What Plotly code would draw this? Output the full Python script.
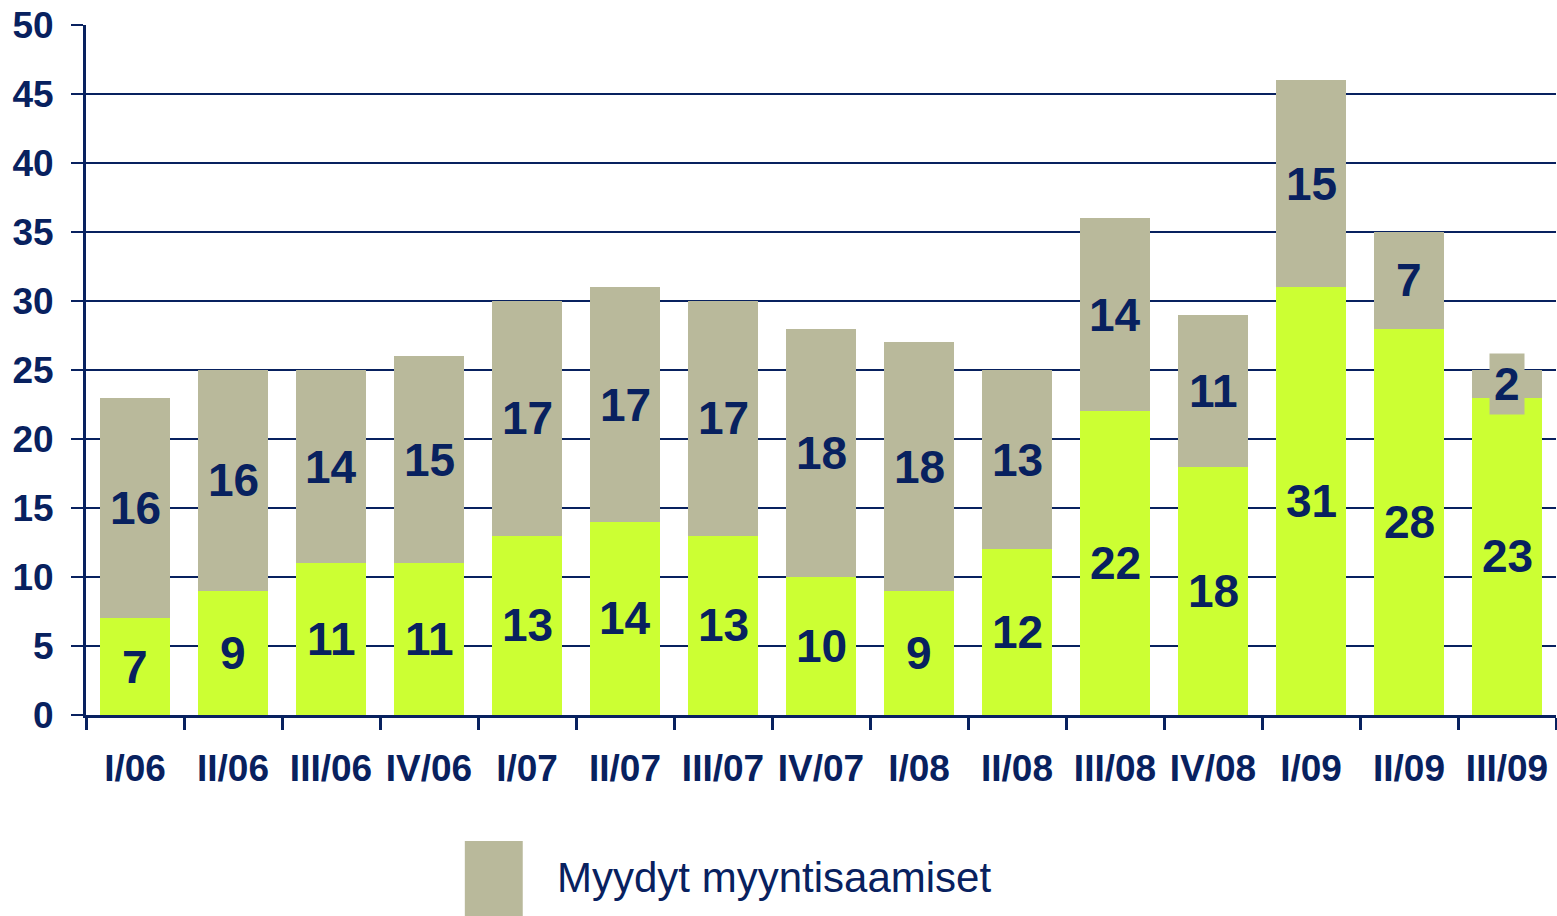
import plotly.graph_objects as go

categories = ["I/06", "II/06", "III/06", "IV/06", "I/07", "II/07", "III/07", "IV/07",
              "I/08", "II/08", "III/08", "IV/08", "I/09", "II/09", "III/09"]
green_values = [7, 9, 11, 11, 13, 14, 13, 10, 9, 12, 22, 18, 31, 28, 23]
grey_values = [16, 16, 14, 15, 17, 17, 17, 18, 18, 13, 14, 11, 15, 7, 2]
y_ticks = [0, 5, 10, 15, 20, 25, 30, 35, 40, 45, 50]
legend_label = "Myydyt myyntisaamiset"

NAVY = "#08215f"
GREEN = "#ccff33"
GREY = "#b9b99b"
FONT = "Liberation Sans, Arial, sans-serif"

fig = go.Figure()
fig.add_trace(go.Bar(x=categories, y=green_values, marker=dict(color=GREEN, line=dict(width=0)),
                     showlegend=False, hoverinfo="skip"))
fig.add_trace(go.Bar(x=categories, y=grey_values, marker=dict(color=GREY, line=dict(width=0)),
                     name=legend_label, showlegend=False, hoverinfo="skip"))

annotations = []
for c, g, s in zip(categories, green_values, grey_values):
    annotations.append(dict(x=c, y=g / 2, text=str(g), showarrow=False,
                            font=dict(family=FONT, size=46, color=NAVY, weight="bold")))
    small = s < 4
    annotations.append(dict(x=c, y=g + s / 2, text=str(s), showarrow=False,
                            font=dict(family=FONT, size=46, color=NAVY, weight="bold"),
                            bgcolor=GREY if small else None, borderpad=4 if small else 1))

# manual legend
annotations.append(dict(xref="paper", yref="paper", x=0.3188, y=-0.2362, xanchor="left",
                        yanchor="middle", text=legend_label, showarrow=False,
                        font=dict(family=FONT, size=42, color=NAVY)))

fig.update_layout(
    barmode="stack",
    bargap=0.28,
    width=1557, height=916,
    margin=dict(l=86, r=1, t=25, b=201, autoexpand=False),
    plot_bgcolor="white", paper_bgcolor="white",
    annotations=annotations,
    shapes=[dict(type="rect", xref="paper", yref="paper", x0=0.2577, x1=0.2971,
                 y0=-0.1826, y1=-0.2913, fillcolor=GREY, line=dict(width=0))],
)
fig.update_xaxes(showline=True, linecolor=NAVY, linewidth=3, ticks="outside",
                 tickson="boundaries", ticklen=12, tickwidth=3, tickcolor=NAVY,
                 tickfont=dict(family=FONT, size=37, color=NAVY, weight="bold"),
                 showgrid=False, automargin=False, ticklabelstandoff=19)
fig.update_yaxes(range=[0, 50], tickvals=y_ticks, showline=True, linecolor=NAVY, linewidth=3,
                 ticks="outside", ticklen=12, tickwidth=2, tickcolor=NAVY,
                 showgrid=True, gridcolor=NAVY, gridwidth=2, zeroline=False, automargin=False,
                 tickfont=dict(family=FONT, size=37, color=NAVY, weight="bold"),
                 ticklabelstandoff=10)

fig.write_html("out.html", config={"displayModeBar": False},
               post_script="document.body.style.margin='0';document.body.style.overflow='hidden';")
